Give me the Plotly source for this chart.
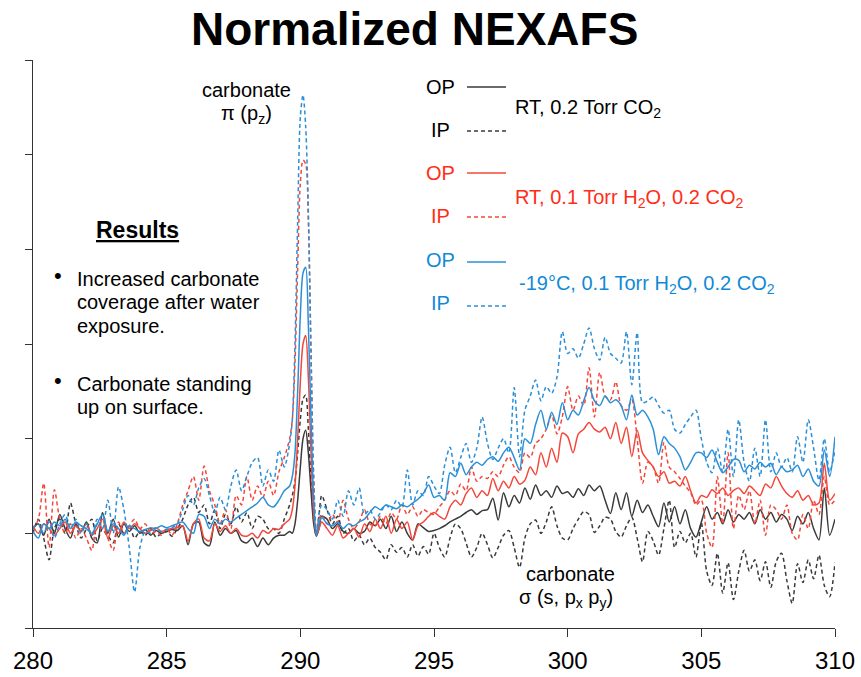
import numpy as np
import plotly.graph_objects as go

# Photon energy grid (eV): 0.2 eV steps, 0.1 eV across the carbonate pi* resonance
energy = np.round(np.concatenate([
    np.arange(280.0, 289.61, 0.2),
    np.arange(289.7, 290.71, 0.1),
    np.arange(290.8, 310.01, 0.2),
]), 1)

# ---- RT, 0.2 Torr CO2 ----
rt_co2_op = [
    1.05, 1.10, 0.98, 1.15, 1.00,  1.20, 1.05, 0.95, 1.10, 1.02,
    1.12, 0.95, 0.90, 1.22, 1.00,  1.15, 0.96, 1.10, 1.02, 1.08,
    1.00, 1.04, 0.98, 1.03, 1.00,  1.02, 1.04, 1.03, 1.08, 0.88,
    1.10, 1.12, 0.90, 0.87, 1.12,  0.98, 1.05, 1.00, 1.03, 0.92,
    0.90, 0.95, 0.86, 0.95, 0.88,  0.95, 0.98, 0.98, 1.02,
    1.00, 1.10, 1.35, 1.70, 2.00, 2.09, 1.85, 1.45, 1.10, 0.97, 1.05,
    1.18,
    1.15, 1.05, 1.10, 1.02, 1.00,  1.05, 1.00, 1.02, 1.12, 1.08,
    1.15, 1.05, 1.18, 1.02, 1.12,  1.00, 0.93, 1.10, 1.06, 1.02,
    1.03, 1.05, 1.08, 1.12, 1.15,  1.18, 1.22, 1.25, 1.20, 1.24,
    1.25, 1.37, 1.14, 1.43, 1.28,  1.40, 1.32, 1.48, 1.36, 1.51,
    1.40, 1.45, 1.38, 1.50, 1.42,  1.44, 1.38, 1.47, 1.40, 1.51,
    1.45, 1.50, 1.35, 1.21, 1.43,  1.25, 1.43, 1.18, 1.35, 1.22,
    1.30, 1.18, 1.07, 1.32, 1.12,  1.28, 1.10, 1.25, 1.05, 0.96,
    1.12, 1.28, 1.15, 1.22, 1.10,  1.25, 1.12, 1.20, 1.15, 1.22,
    1.10, 1.25, 1.15, 1.22, 1.12,  1.20, 1.15, 1.03, 1.18, 1.10,
    1.22, 1.05, 0.93, 1.48, 0.98,
    1.15,
]
rt_co2_ip = [
    1.00, 1.15, 0.95, 0.72, 1.05,  1.15, 1.00, 1.32, 1.10, 0.95,
    1.05, 1.15, 0.92, 1.05, 0.98,  0.90, 1.10, 1.00, 1.08, 0.95,
    1.02, 0.98, 1.05, 0.96, 1.00,  1.02, 0.97, 1.05, 1.15, 1.30,
    1.38, 1.22, 1.30, 1.10, 1.25,  1.05, 1.20, 1.10, 1.28, 1.12,
    1.22, 1.05, 1.18, 1.15, 1.05,  1.05, 1.00, 1.15, 1.30,
    1.40, 1.55, 1.85, 2.20, 2.42, 2.46, 2.10, 1.55, 1.15, 0.97, 1.20,
    1.40,
    1.25, 1.10, 1.18, 1.00, 1.05,  0.92, 0.98, 0.88, 0.95, 0.85,
    0.80, 0.72, 0.88, 0.80, 0.85,  0.75, 0.88, 0.76, 0.86, 0.78,
    1.00, 0.85, 0.75, 0.95, 1.10,  1.05, 0.90, 0.75, 0.85, 1.00,
    0.88, 0.74, 0.85, 0.98, 1.03,  0.85, 0.64, 0.95, 1.10, 1.14,
    1.00, 1.12, 1.28, 1.08, 0.95,  0.93, 1.05, 1.15, 1.23, 1.20,
    1.01, 1.08, 1.17, 1.15, 1.02,  0.96, 1.08, 1.17, 0.95, 0.70,
    1.02, 0.92, 0.77, 1.05, 1.35,  0.85, 1.02, 0.90, 1.00, 0.75,
    1.11, 0.60, 0.45, 0.79, 0.37,  0.69, 0.30, 0.60, 0.82, 0.60,
    0.72, 0.50, 0.70, 0.43, 0.70,  0.79, 0.50, 0.26, 0.68, 0.48,
    0.72, 0.52, 0.77, 0.45, 0.33,
    0.69,
]

# ---- RT, 0.1 Torr H2O + 0.2 Torr CO2 ----
rt_h2o_op = [
    1.08, 1.00, 1.10, 1.05, 0.98,  1.05, 1.12, 1.00, 1.08, 1.02,
    1.10, 0.98, 1.05, 1.15, 0.95,  1.08, 1.00, 1.12, 1.05, 1.10,
    1.05, 1.00, 1.03, 1.06, 1.02,  1.04, 1.05, 1.06, 1.08, 0.92,
    1.10, 1.15, 0.95, 0.92, 1.10,  1.02, 1.08, 1.00, 1.05, 0.98,
    0.97, 1.00, 0.95, 1.03, 1.00,  1.05, 1.04, 1.10, 1.15,
    1.25, 1.50, 2.00, 2.60, 3.00, 3.09, 2.65, 1.85, 1.20, 0.98, 1.05,
    1.12,
    1.05, 0.98, 1.08, 0.95, 1.00,  1.05, 0.96, 1.10, 1.02, 1.15,
    1.05, 1.18, 1.00, 1.15, 1.05,  1.12, 0.93, 1.08, 1.12, 1.18,
    1.22, 1.18, 1.15, 1.28, 1.35,  1.30, 1.42, 1.48, 1.38, 1.45,
    1.40, 1.58, 1.45, 1.55, 1.48,  1.60, 1.52, 1.56, 1.70, 1.62,
    1.85, 1.70, 1.90, 1.75, 2.06,  2.02, 1.85, 2.05, 2.10, 2.17,
    2.10, 2.07, 2.12, 2.00, 2.17,  1.95, 2.12, 1.81, 2.09, 1.85,
    1.77, 1.70, 1.60, 1.65, 1.53,  1.55, 1.50, 1.60, 1.45, 1.32,
    1.40, 1.38, 1.46, 1.42, 1.48,  1.40, 1.45, 1.48, 1.42, 1.50,
    1.45, 1.40, 1.52, 1.48, 1.60,  1.50, 1.42, 1.38, 1.45, 1.35,
    1.40, 1.30, 1.32, 1.74, 1.35,
    1.42,
]
rt_h2o_ip = [
    1.05, 1.15, 1.53, 0.85, 1.46,  1.15, 1.00, 1.10, 0.95, 1.05,
    0.95, 0.82, 1.10, 1.05, 0.95,  0.82, 1.12, 1.00, 1.08, 1.15,
    1.05, 1.10, 1.00, 1.02, 0.98,  1.05, 0.98, 1.10, 1.30, 1.45,
    1.60, 1.35, 1.71, 1.45, 1.30,  1.10, 1.25, 1.05, 1.40, 1.30,
    1.60, 1.35, 1.50, 1.38, 1.55,  1.40, 1.65, 1.80, 2.00,
    2.20, 2.80, 3.80, 4.70, 4.94, 4.90, 4.30, 2.90, 1.60, 1.02, 1.15,
    1.20,
    1.10, 1.20, 1.12, 1.35, 1.15,  1.05, 1.12, 1.25, 1.10, 1.08,
    1.18, 1.10, 1.22, 1.15, 1.30,  1.20, 1.28, 1.18, 1.25, 1.22,
    1.20, 1.28, 1.35, 1.45, 1.40,  1.52, 1.45, 1.70, 1.55, 1.60,
    1.58, 1.65, 1.60, 1.72, 1.81,  1.70, 1.64, 1.85, 1.80, 1.95,
    2.00, 2.10, 2.25, 2.05, 2.23,  2.55, 2.30, 2.45, 2.35, 2.75,
    2.23, 2.70, 2.45, 2.41, 2.60,  2.35, 2.30, 2.41, 2.00, 1.53,
    1.75, 1.70, 1.53, 1.96, 1.70,  1.65, 1.58, 1.50, 1.43, 1.30,
    1.35, 1.00, 0.85, 1.60, 1.10,  1.85, 1.05, 1.40, 1.25, 1.45,
    1.10, 1.35, 0.98, 1.30, 1.25,  1.15, 1.30, 1.00, 0.93, 1.20,
    1.05, 1.35, 1.20, 1.60, 1.30,
    1.35,
]

# ---- -19 C, 0.1 Torr H2O + 0.2 Torr CO2 ----
cold_h2o_op = [
    1.02, 0.95, 1.10, 1.05, 1.12,  1.08, 1.15, 1.05, 1.12, 1.08,
    1.05, 1.00, 1.10, 1.20, 1.02,  1.10, 1.05, 0.98, 1.08, 1.05,
    1.02, 1.04, 1.06, 1.05, 1.08,  1.06, 1.08, 1.10, 1.12, 1.05,
    1.00, 1.20, 1.18, 1.05, 1.15,  1.10, 1.15, 1.12, 1.16, 1.20,
    1.24, 1.28, 1.32, 1.38, 1.30,  1.28, 1.35, 1.45, 1.50,
    1.60, 1.85, 2.50, 3.30, 3.75, 3.81, 3.20, 2.20, 1.35, 0.98, 1.10,
    1.17,
    1.10, 1.08, 1.12, 1.05, 1.10,  1.08, 1.12, 1.15, 1.22, 1.28,
    1.25, 1.30, 1.28, 1.26, 1.30,  1.28, 1.32, 1.36, 1.42, 1.51,
    1.38, 1.40, 1.35, 1.64, 1.60,  1.74, 1.62, 1.70, 1.75, 1.72,
    1.78, 1.81, 1.76, 1.85, 1.91,  1.80, 1.67, 2.00, 1.95, 2.15,
    2.30, 2.10, 2.28, 2.15, 2.38,  2.20, 2.30, 2.25, 2.40, 2.54,
    2.40, 2.35, 2.45, 2.38, 2.41,  2.35, 2.20, 2.46, 2.25, 2.30,
    2.23, 2.10, 1.83, 2.02, 1.95,  1.90, 1.81, 1.67, 1.75, 1.85,
    1.85, 1.80, 1.88, 1.75, 1.64,  1.70, 1.78, 1.77, 1.65, 1.72,
    1.68, 1.75, 1.70, 1.74, 1.62,  1.70, 1.65, 1.67, 1.72, 1.60,
    1.68, 1.55, 1.50, 1.88, 1.60,
    2.02,
]
cold_h2o_ip = [
    1.05, 1.10, 1.00, 1.12, 0.95,  1.10, 1.20, 1.05, 1.15, 1.00,
    1.10, 0.98, 1.15, 1.05, 1.35,  1.00, 1.49, 1.25, 0.85, 0.38,
    0.85, 1.02, 1.00, 1.05, 1.02,  1.04, 1.06, 1.10, 1.25, 1.40,
    1.30, 1.48, 1.58, 1.40, 1.22,  1.38, 1.25, 1.50, 1.67, 1.45,
    1.60, 1.75, 1.80, 1.50, 1.67,  1.55, 1.88, 1.70, 1.95,
    2.20, 3.00, 4.30, 5.40, 5.63, 5.30, 4.40, 2.90, 1.55, 1.00, 1.20,
    1.30,
    1.25, 1.15, 1.35, 1.18, 1.45,  1.30, 1.48, 1.20, 1.25, 1.15,
    1.22, 1.30, 1.25, 1.35, 1.28,  1.67, 1.30, 1.45, 1.40, 1.60,
    1.50, 1.42, 1.72, 1.91, 1.64,  1.80, 1.95, 1.75, 1.90, 2.23,
    1.95, 1.78, 1.90, 2.00, 1.85,  2.54, 1.81, 2.30, 2.45, 2.62,
    2.40, 2.55, 2.48, 2.65, 3.13,  2.90, 2.95, 2.85, 3.00, 3.17,
    2.95, 2.83, 3.07, 2.90, 2.85,  2.80, 3.13, 2.57, 3.12, 2.38,
    2.40, 2.44, 2.35, 2.27, 2.30,  2.10, 2.06, 2.15, 2.23, 2.30,
    2.00, 1.75, 1.64, 1.90, 1.65,  2.10, 1.60, 2.20, 1.75, 1.55,
    1.90, 1.60, 2.20, 1.65, 1.85,  1.70, 1.80, 1.65, 2.02, 1.75,
    2.20, 1.90, 1.56, 2.00, 1.65,
    1.88,
]

x_ticks = [280, 285, 290, 295, 300, 305, 310]

BLACK = "#3a3a3a"
RED = "#f4473a"
BLUE = "#2b8fd8"
RED_TXT = "#ff2d17"
BLUE_TXT = "#118ad6"
DASH = "4px,3px"
FONT = "Liberation Sans, Arial, sans-serif"

series = [
    (rt_co2_ip, BLACK, DASH), (rt_co2_op, BLACK, "solid"),
    (rt_h2o_ip, RED, DASH), (rt_h2o_op, RED, "solid"),
    (cold_h2o_ip, BLUE, DASH), (cold_h2o_op, BLUE, "solid"),
]

fig = go.Figure()
for values, color, dash in series:
    assert len(values) == len(energy)
    fig.add_trace(go.Scatter(
        x=energy, y=values, mode="lines",
        line=dict(color=color, width=1.5, dash=dash, shape="spline", smoothing=0.8),
        hoverinfo="skip",
    ))

L, R, T, B = 33, 26, 60, 49
W, H = 861, 677


def xp(px):
    return (px - L) / (W - L - R)


def yp(py):
    return (H - B - py) / (H - T - B)


def label(text, x, y, size=20, color="black", anchor="center"):
    return dict(text=text, x=xp(x), y=yp(y), xref="paper", yref="paper",
                xanchor=anchor, yanchor="middle", showarrow=False,
                font=dict(size=size, color=color, family=FONT))


annotations = [
    label("<b>Normalized NEXAFS</b>", 414, 29, size=46),
    label("carbonate", 246, 90),
    label("\u03c0 (p<sub>z</sub>)", 246, 114),
    label("<b><u>Results</u></b>", 137, 230, size=23),
    label("\u2022", 58, 275, size=22),
    label("Increased carbonate", 75, 279, anchor="left"),
    label("coverage after water", 75, 302, anchor="left"),
    label("exposure.", 75, 326, anchor="left"),
    label("\u2022", 58, 380, size=22),
    label("Carbonate standing", 75, 384, anchor="left"),
    label("up on surface.", 75, 407, anchor="left"),
    label("carbonate", 570, 574),
    label("\u03c3 (s, p<sub>x</sub> p<sub>y</sub>)", 566, 598),
    # key
    label("OP", 440, 87),
    label("IP", 440, 130),
    label("RT, 0.2 Torr CO<sub>2</sub>", 513, 108, anchor="left"),
    label("OP", 440, 173, color=RED_TXT),
    label("IP", 440, 216, color=RED_TXT),
    label("RT, 0.1 Torr H<sub>2</sub>O, 0.2 CO<sub>2</sub>", 513, 198, color=RED_TXT, anchor="left"),
    label("OP", 440, 260, color=BLUE_TXT),
    label("IP", 440, 303, color=BLUE_TXT),
    label("-19\u00b0C, 0.1 Torr H<sub>2</sub>O, 0.2 CO<sub>2</sub>", 517, 284, color=BLUE_TXT, anchor="left"),
]

key_lines = [(87, BLACK, "solid"), (131, BLACK, DASH),
             (173, RED, "solid"), (217, RED, DASH),
             (262, BLUE, "solid"), (306, BLUE, DASH)]
shapes = [dict(type="line", xref="paper", yref="paper",
               x0=xp(467), x1=xp(506), y0=yp(y), y1=yp(y),
               line=dict(color=c, width=1.5, dash=d))
          for y, c, d in key_lines]

fig.update_layout(
    width=W, height=H,
    margin=dict(l=L, r=R, t=T, b=B, autoexpand=False),
    paper_bgcolor="white", plot_bgcolor="white",
    showlegend=False,
    font=dict(family=FONT, color="black"),
    annotations=annotations,
    shapes=shapes,
    xaxis=dict(range=[280, 310], tickvals=x_ticks, ticks="outside", ticklen=8,
               tickwidth=1.3, tickcolor="#333", showline=True, linecolor="#333",
               linewidth=1.3, showgrid=False, zeroline=False, automargin=False,
               tickfont=dict(size=24, color="black", family=FONT),
               ticklabelstandoff=3),
    yaxis=dict(range=[0, 6], tickvals=[0, 1, 2, 3, 4, 5, 6], ticks="outside",
               ticklen=7, tickwidth=1.3, tickcolor="#333", showticklabels=False,
               showline=True, linecolor="#333", linewidth=1.3, automargin=False,
               showgrid=False, zeroline=False),
)

fig.write_html("out.html")
